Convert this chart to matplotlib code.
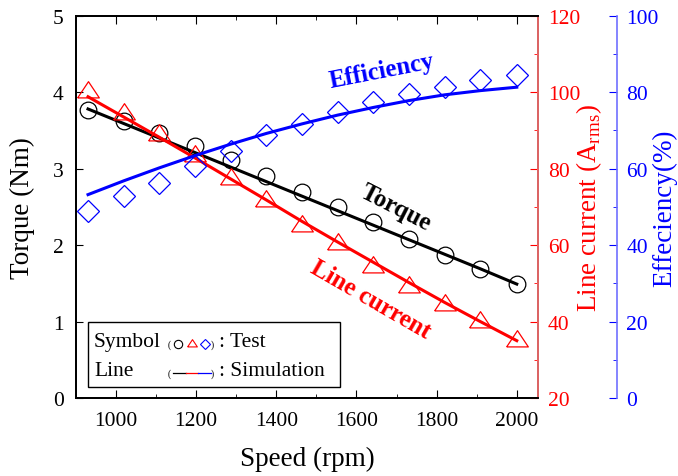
import matplotlib
matplotlib.use("Agg")
from matplotlib import pyplot as plt
from matplotlib.patches import Rectangle
from matplotlib.ticker import MultipleLocator

plt.rcParams["font.family"] = ["Liberation Serif", "DejaVu Serif"]
plt.rcParams["mathtext.fontset"] = "custom"
plt.rcParams["mathtext.rm"] = "Liberation Serif"

# measured points (test) and simulated curves at the same speeds
speed = [930, 1019, 1108, 1197, 1286, 1375, 1464, 1553, 1642, 1731, 1820, 1909, 2000]
torque_test = [3.77, 3.62, 3.46, 3.30, 3.11, 2.91, 2.70, 2.50, 2.30, 2.08, 1.87, 1.69, 1.49]
torque_sim = [3.78, 3.59, 3.40, 3.21, 3.02, 2.83, 2.64, 2.45, 2.26, 2.07, 1.88, 1.69, 1.49]
current_test = [100.0, 94.3, 88.7, 83.4, 77.3, 71.5, 65.1, 60.3, 54.2, 49.0, 44.2, 39.8, 35.0]
current_sim = [98.8, 93.5, 88.2, 82.8, 77.3, 71.8, 66.2, 60.8, 55.5, 50.2, 45.0, 40.0, 35.0]
eff_test = [49.0, 52.8, 56.3, 60.8, 64.7, 68.7, 71.7, 74.8, 77.4, 79.6, 81.3, 83.1, 84.6]
eff_sim = [53.2, 56.8, 60.2, 63.4, 66.4, 69.2, 71.7, 74.0, 76.0, 77.8, 79.3, 80.4, 81.3]

RED = "#ff0000"
BLUE = "#0000ff"
RED_AX = "#ff7070"
BLUE_AX = "#7070ff"
TICK_FS = 15.5
LABEL_FS = 19.5
NOTE_FS = 18

# wide, flat open triangle like the original
TRI = [(-1.0, -0.5), (1.0, -0.5), (0.0, 1.0), (-1.0, -0.5)]

fig = plt.figure(figsize=(6.78, 4.77), dpi=100)
ax = fig.add_axes([0.1121, 0.1635, 0.6814, 0.8015])
ax2 = ax.twinx()
ax3 = ax.twinx()
ax3.spines["right"].set_position(("axes", 1.17))

# torque (left axis)
ax.plot(speed, torque_sim, color="black", lw=2.2, zorder=3)
ax.plot(speed, torque_test, "o", ms=12, mfc="none", mec="black", mew=0.9, zorder=3)
ax.set_xlim(900, 2053)
ax.set_ylim(0, 5)
ax.set_xlabel("Speed (rpm)", fontsize=LABEL_FS)
ax.set_ylabel("Torque (Nm)", fontsize=LABEL_FS)
ax.xaxis.set_label_coords(0.501, -0.125)
ax.yaxis.set_label_coords(-0.088, 0.5)
ax.xaxis.set_major_locator(MultipleLocator(200))
ax.xaxis.set_minor_locator(MultipleLocator(100))
ax.yaxis.set_major_locator(MultipleLocator(1))
ax.tick_params(axis="x", which="both", direction="in", top=True, labelsize=TICK_FS, pad=9)
ax.tick_params(axis="x", which="major", length=6)
ax.tick_params(axis="x", which="minor", length=3)
ax.tick_params(axis="y", direction="in", length=5, labelsize=TICK_FS, pad=9)

# line current (red axis)
ax2.plot(speed, current_sim, color=RED, lw=2.2)
ax2.plot(speed, current_test, marker=TRI, ls="none", ms=15.6, mfc="none", mec=RED, mew=0.9)
ax2.set_ylim(20, 120)
ax2.yaxis.set_major_locator(MultipleLocator(20))
ax2.yaxis.set_minor_locator(MultipleLocator(10))
ax2.tick_params(axis="y", which="both", direction="in", colors=RED, labelsize=TICK_FS, pad=7)
ax2.tick_params(axis="y", which="major", length=6)
ax2.tick_params(axis="y", which="minor", length=3)
ax2.spines["right"].set_color(RED_AX)
ax2.set_ylabel("Line current (A$_{\\mathrm{rms}}$)", color=RED, fontsize=LABEL_FS)
ax2.yaxis.set_label_coords(1.078, 0.5)

# efficiency (blue axis)
ax3.plot(speed, eff_sim, color=BLUE, lw=2.2)
ax3.plot(speed, eff_test, "D", ms=11, mfc="none", mec=BLUE, mew=0.9)
ax3.set_ylim(0, 100)
ax3.yaxis.set_major_locator(MultipleLocator(20))
ax3.yaxis.set_minor_locator(MultipleLocator(10))
ax3.tick_params(axis="y", which="both", direction="in", colors=BLUE, labelsize=TICK_FS, pad=7)
ax3.tick_params(axis="y", which="major", length=6)
ax3.tick_params(axis="y", which="minor", length=3)
ax3.spines["right"].set_color(BLUE_AX)
ax3.set_ylabel("Effeciency(%)", color=BLUE, fontsize=LABEL_FS)
ax3.yaxis.set_label_coords(1.246, 0.5)

for a in (ax, ax2, ax3):
    for s in a.spines.values():
        s.set_linewidth(1.2)

# curve labels
ax.text(1664, 4.28, "Efficiency", color=BLUE, fontsize=NOTE_FS, fontweight="bold",
        rotation=11, ha="center", va="center")
ax.text(1698, 2.50, "Torque", color="black", fontsize=NOTE_FS, fontweight="bold",
        rotation=-27, ha="center", va="center")
ax.text(1634, 1.30, "Line current", color=RED, fontsize=NOTE_FS, fontweight="bold",
        rotation=-30, ha="center", va="center")

# hand made legend box
tr = ax.transAxes
ax.add_patch(Rectangle((0.0266, 0.029), 0.544, 0.170, transform=tr, fill=False,
                       lw=1.0, ec="black", zorder=5))
y1, y2 = 0.147, 0.071
ax.text(0.039, y1, "Symbol", transform=tr, fontsize=TICK_FS, va="center", zorder=6)
ax.text(0.039, y2, "Line", transform=tr, fontsize=TICK_FS, va="center", zorder=6)
for yy in (y1, y2):
    ax.text(0.199, yy - 0.005, "(", transform=tr, fontsize=7, va="center", zorder=6)
    ax.text(0.292, yy - 0.005, ")", transform=tr, fontsize=7, va="center", zorder=6)
ax.plot([0.221], [y1 - 0.005], "o", ms=6, mfc="none", mec="black", mew=0.8, transform=tr, zorder=6)
ax.plot([0.250], [y1 - 0.005], marker=TRI, ms=7, mfc="none", mec=RED, mew=0.8, transform=tr, zorder=6)
ax.plot([0.279], [y1 - 0.005], "D", ms=5.5, mfc="none", mec=BLUE, mew=0.8, transform=tr, zorder=6)
ax.plot([0.210, 0.238], [y2 - 0.005] * 2, color="black", lw=0.9, transform=tr, zorder=6)
ax.plot([0.238, 0.264], [y2 - 0.005] * 2, color=RED, lw=0.9, transform=tr, zorder=6)
ax.plot([0.264, 0.292], [y2 - 0.005] * 2, color=BLUE, lw=0.9, transform=tr, zorder=6)
ax.text(0.310, y1, ": Test", transform=tr, fontsize=TICK_FS, va="center", zorder=6)
ax.text(0.310, y2, ": Simulation", transform=tr, fontsize=TICK_FS, va="center", zorder=6)

plt.savefig("out.png", dpi=100)
